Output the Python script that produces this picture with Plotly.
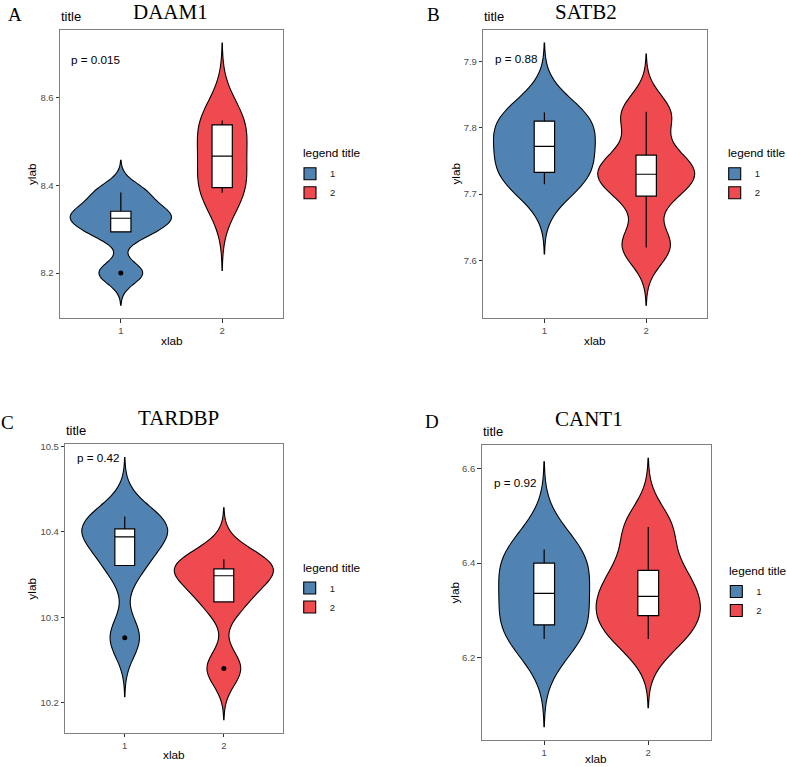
import plotly.graph_objects as go

# ---------------- data ----------------
genes = ["DAAM1", "SATB2", "TARDBP", "CANT1"]
panel_letters = ["A", "B", "C", "D"]
p_labels = ["p = 0.015", "p = 0.88", "p = 0.42", "p = 0.92"]
group_names = ["1", "2"]
group_positions = [1, 2]

daam1_g1 = [8.200, 8.294, 8.325, 8.341, 8.384]
daam1_g2 = [8.383, 8.395, 8.467, 8.538, 8.548]
satb2_g1 = [7.715, 7.720, 7.733, 7.750, 7.772, 7.792, 7.810, 7.817, 7.823]
satb2_g2 = [7.6195, 7.625, 7.697, 7.722, 7.730, 7.738, 7.759, 7.818, 7.8244]
tardbp_g1 = [10.276, 10.3606, 10.394, 10.4035, 10.418]
tardbp_g2 = [10.240, 10.318, 10.3486, 10.3567, 10.368]
cant1_g1 = [6.2389, 6.269, 6.3356, 6.400, 6.4287]
cant1_g2 = [6.2389, 6.2886, 6.3292, 6.3846, 6.4764]

# kernel bandwidths of the density estimates
daam1_bw = [0.0245, 0.059]
satb2_bw = [0.035, 0.029]
tardbp_bw = [0.023, 0.020]
cant1_bw = [0.062, 0.0485]

ytick_steps = [0.2, 0.1, 0.1, 0.2]

panel_data = [
    (daam1_g1, daam1_g2, daam1_bw),
    (satb2_g1, satb2_g2, satb2_bw),
    (tardbp_g1, tardbp_g2, tardbp_bw),
    (cant1_g1, cant1_g2, cant1_bw),
]

# ---------------- layout / styles ----------------
W, H = 787, 767
SANS = "Liberation Sans, Arial, sans-serif"
SERIF = "Liberation Serif, Times New Roman, serif"
fills = ["#5183B2", "#EF4A50"]
AXCOL = "#7F7F7F"
TICKCOL = "#4D4D4D"

panels_px = [
    (60, 283, 26, 316),
    (483.3, 707.3, 26, 316),
    (65.3, 283.3, 442.7, 732.7),
    (481.7, 710.7, 443.3, 740),
]
letter_px = [(15.3, 10.8), (433, 11), (7, 420.5), (431.7, 420)]
gene_px = [(170, 8.5), (586, 8.5), (178, 416.5), (589, 417)]
title_px = [(60, 12.8), (483.3, 12.8), (65.3, 428.8), (481.7, 429.5)]
p_px = [(70, 56), (494, 54.3), (76, 456), (493, 481)]
xlab_y = [338.5, 338.5, 755, 758.5]
ylab_x = [32, 456.5, 32, 455]
legtitle_px = [(302, 150), (726.7, 150), (301.7, 566.7), (728.3, 570)]
legend_px = [(290, 156), (714.7, 156), (289.7, 572.5), (716.3, 576)]


def px(x):
    return x / W


def py(y):
    return 1 - y / H


fig = go.Figure()
layout = dict(
    width=W, height=H,
    margin=dict(l=0, r=0, t=0, b=0),
    paper_bgcolor="white", plot_bgcolor="white",
    showlegend=True,
    violinmode="overlay", violingap=0, violingroupgap=0,
    font=dict(family=SANS, color="black"),
    annotations=[],
)

for i, (g1, g2, bws) in enumerate(panel_data):
    sfx = "" if i == 0 else str(i + 1)
    xa, ya = "x" + sfx, "y" + sfx
    leg = "legend" + sfx
    groups = [g1, g2]

    lo_all, hi_all = [], []
    for g, vals in enumerate(groups):
        bw = bws[g]
        span = [min(vals) - 3 * bw, max(vals) + 3 * bw]
        lo_all.append(span[0])
        hi_all.append(span[1])
        fig.add_trace(go.Violin(
            y=vals, x0=group_positions[g], name=group_names[g],
            xaxis=xa, yaxis=ya, legend=leg,
            bandwidth=bw, spanmode="manual", span=span,
            scalemode="count", scalegroup="panel%d" % i,
            fillcolor=fills[g], opacity=1,
            line=dict(color="black", width=1.1),
            points=False, box_visible=False, meanline_visible=False,
            showlegend=True,
        ))
    for g, vals in enumerate(groups):
        fig.add_trace(go.Box(
            y=vals, x0=group_positions[g], name=group_names[g],
            xaxis=xa, yaxis=ya, width=0.2,
            fillcolor="white", line=dict(color="black", width=1.2),
            whiskerwidth=0, boxpoints="outliers", pointpos=0, jitter=0,
            marker=dict(color="black", size=5),
            quartilemethod="inclusive", showlegend=False,
        ))

    lo, hi = min(lo_all), max(hi_all)
    pad = 0.05 * (hi - lo)
    l, r, t, b = panels_px[i]
    layout["xaxis" + sfx] = dict(
        domain=[px(l), px(r)], anchor=ya, range=[0.4, 2.6],
        tickmode="array", tickvals=group_positions, ticktext=group_names,
        showline=True, mirror=True, linecolor=AXCOL, linewidth=1,
        ticks="outside", ticklen=3.5, tickcolor="#333333", tickwidth=1,
        tickfont=dict(size=9.5, color=TICKCOL, family=SANS),
        showgrid=False, zeroline=False, fixedrange=True,
    )
    layout["yaxis" + sfx] = dict(
        domain=[py(b), py(t)], anchor=xa, range=[lo - pad, hi + pad],
        tick0=0, dtick=ytick_steps[i],
        showline=True, mirror=True, linecolor=AXCOL, linewidth=1,
        ticks="outside", ticklen=3.5, tickcolor="#333333", tickwidth=1,
        tickfont=dict(size=9.5, color=TICKCOL, family=SANS),
        showgrid=False, zeroline=False, fixedrange=True,
    )
    lx, ly = legend_px[i]
    layout[leg] = dict(
        x=px(lx), y=py(ly), xanchor="left", yanchor="top",
        font=dict(size=9.5, color="#1A1A1A", family=SANS),
        bgcolor="rgba(0,0,0,0)", borderwidth=0, traceorder="normal",
    )

    ann = layout["annotations"]
    ann.append(dict(text="legend title", x=px(legtitle_px[i][0]), y=py(legtitle_px[i][1]),
                    xref="paper", yref="paper", xanchor="left", yanchor="middle",
                    showarrow=False, borderpad=0,
                    font=dict(family=SANS, size=11.8, color="black")))
    ann.append(dict(text=panel_letters[i], x=px(letter_px[i][0]), y=py(letter_px[i][1]),
                    xref="paper", yref="paper", xanchor="center", yanchor="middle",
                    showarrow=False, font=dict(family=SERIF, size=19, color="black")))
    ann.append(dict(text=genes[i], x=px(gene_px[i][0]), y=py(gene_px[i][1]),
                    xref="paper", yref="paper", xanchor="center", yanchor="middle",
                    showarrow=False, font=dict(family=SERIF, size=21, color="black")))
    ann.append(dict(text="title", x=px(title_px[i][0]), y=py(title_px[i][1]),
                    xref="paper", yref="paper", xanchor="left", yanchor="middle",
                    showarrow=False, borderpad=0, font=dict(family=SANS, size=13, color="black")))
    ann.append(dict(text=p_labels[i], x=px(p_px[i][0]), y=py(p_px[i][1]),
                    xref="paper", yref="paper", xanchor="left", yanchor="middle",
                    showarrow=False, borderpad=0, font=dict(family=SANS, size=11.7, color="black")))
    ann.append(dict(text="xlab", x=px((l + r) / 2), y=py(xlab_y[i]),
                    xref="paper", yref="paper", xanchor="center", yanchor="middle",
                    showarrow=False, borderpad=0,
                    font=dict(family=SANS, size=11.8, color="black")))
    ann.append(dict(text="ylab", x=px(ylab_x[i]), y=py((t + b) / 2),
                    xref="paper", yref="paper", xanchor="center", yanchor="middle",
                    textangle=-90, showarrow=False,
                    font=dict(family=SANS, size=11.8, color="black")))

fig.update_layout(**layout)
fig.write_html(
    "out.html",
    config={"displayModeBar": False},
    post_script="document.body.style.margin='0';document.body.style.overflow='hidden';",
)
